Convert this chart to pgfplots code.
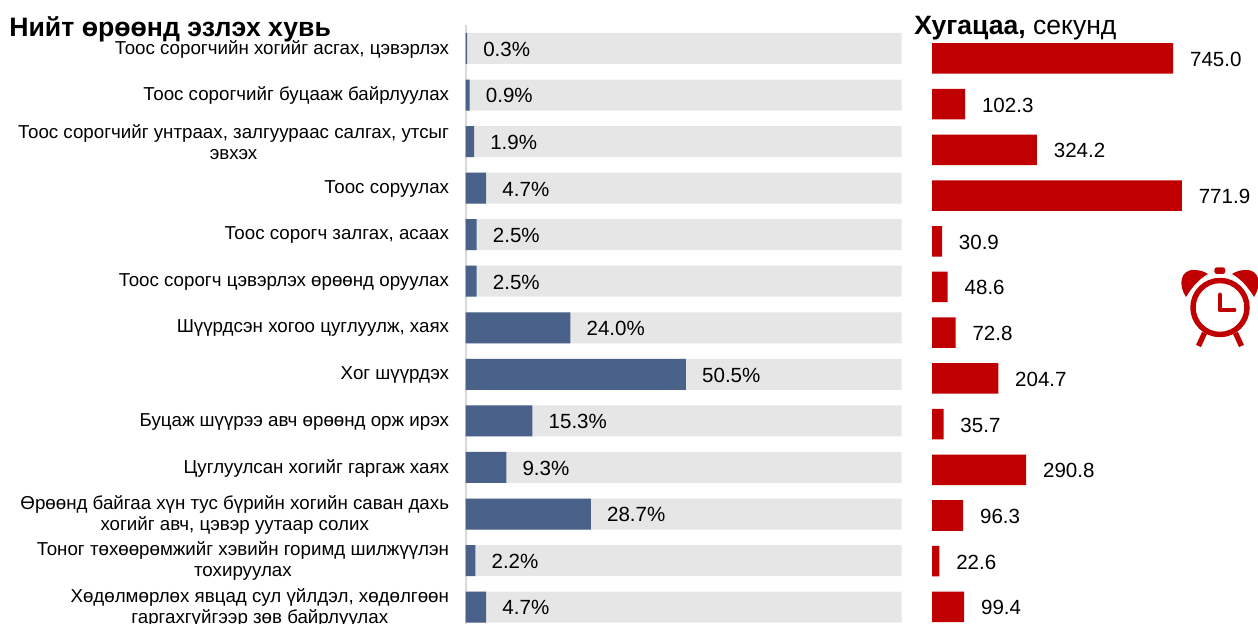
\documentclass[border=0pt]{standalone}
\usepackage{fontspec}
\setmainfont{Liberation Sans}
\usepackage{pgfplots}
\pgfplotsset{compat=1.18}
\definecolor{barblue}{HTML}{4A628A}
\definecolor{barback}{HTML}{E6E6E6}
\definecolor{barred}{HTML}{C00000}
\definecolor{axisgray}{HTML}{D9D9D9}
\pgfplotstableread{
row share
0 0.3
1 0.9
2 1.9
3 4.7
4 2.5
5 2.5
6 24.0
7 50.5
8 15.3
9 9.3
10 28.7
11 2.2
12 4.7
}\sharetable
\pgfplotstableread{
row secs
0 745.0
1 102.3
2 324.2
3 771.9
4 30.9
5 48.6
6 72.8
7 204.7
8 35.7
9 290.8
10 96.3
11 22.6
12 99.4
}\timetable
\begin{document}
\begin{tikzpicture}[x=0.75pt,y=-0.75pt]
\path[use as bounding box] (0,0) rectangle (1258,624);
% left panel: share of room time
\begin{axis}[
  at={(349.3pt,-18.9pt)},anchor=north west,
  scale only axis,width=327pt,height=450.4pt,
  xmin=0,xmax=100,ymin=-0.5,ymax=12.4,y dir=reverse,
  axis x line=none,axis y line=left,
  axis line style={draw=axisgray,line width=1.4pt,-},
  clip=false,xbar,bar shift=0pt,bar width=23.25pt,
  ytick={0,...,12},major tick length=0pt,
  yticklabel style={inner sep=0pt,xshift=-12.3pt,yshift=-0.5pt,align=center,
    font=\fontsize{14.05}{16}\selectfont},
  yticklabels={
    {Тоос сорогчийн хогийг асгах, цэвэрлэх},
    {Тоос сорогчийг буцааж байрлуулах},
    {Тоос сорогчийг унтраах, залгуураас салгах, утсыг\\эвхэх},
    {Тоос соруулах},
    {Тоос сорогч залгах, асаах},
    {Тоос сорогч цэвэрлэх өрөөнд оруулах},
    {Шүүрдсэн хогоо цуглуулж, хаях},
    {Хог шүүрдэх},
    {Буцаж шүүрээ авч өрөөнд орж ирэх},
    {Цуглуулсан хогийг гаргаж хаях},
    {Өрөөнд байгаа хүн тус бүрийн хогийн саван дахь\\хогийг авч, цэвэр уутаар солих},
    {Тоног төхөөрөмжийг хэвийн горимд шилжүүлэн\\тохируулах},
    {Хөдөлмөрлөх явцад сул үйлдэл, хөдөлгөөн\\гаргахгүйгээр зөв байрлуулах}},
]
\addplot[fill=barback,draw=none] coordinates {(100,0)(100,1)(100,2)(100,3)(100,4)(100,5)(100,6)(100,7)(100,8)(100,9)(100,10)(100,11)(100,12)};
\addplot[fill=barblue,draw=none,
  nodes near coords={\pgfmathprintnumber[fixed,fixed zerofill,precision=1,assume math mode=true]{\pgfplotspointmeta}\%},
  nodes near coords align={anchor=west},
  every node near coord/.append style={text=black,inner sep=0pt,xshift=12pt,yshift=-0.6pt,font=\fontsize{15.4}{18}\selectfont},
  point meta=x] table[x=share,y=row] {\sharetable};
\end{axis}
% right panel: duration in seconds
\begin{axis}[
  at={(699pt,-26.7pt)},anchor=north west,
  scale only axis,width=244.5pt,height=445.6pt,
  xmin=0,xmax=1007,ymin=-0.5,ymax=12.5,y dir=reverse,
  hide axis,clip=false,xbar,bar shift=0pt,bar width=22.9pt,
]
\addplot[fill=barred,draw=none,
  nodes near coords={\pgfmathprintnumber[fixed,fixed zerofill,precision=1,assume math mode=true]{\pgfplotspointmeta}},
  nodes near coords align={anchor=west},
  every node near coord/.append style={text=black,inner sep=0pt,xshift=12.5pt,yshift=-0.7pt,font=\fontsize{15.4}{18}\selectfont},
  point meta=x] table[x=secs,y=row] {\timetable};
\end{axis}
% panel titles
\node[anchor=base west,inner sep=0pt,font=\bfseries\fontsize{20}{22}\selectfont] at (9,37) {Нийт өрөөнд эзлэх хувь};
\node[anchor=base west,inner sep=0pt,font=\fontsize{19.9}{22}\selectfont] at (914,35) {\textbf{Хугацаа,} секунд};
% alarm clock icon
\begin{scope}[barred]
  \draw[line width=4.1pt] (1220,307.5) circle (27);
  \fill (1186,297) .. controls (1178,285) and (1180,269) .. (1195,270) .. controls (1200,270) and (1205,272) .. (1208,274) .. controls (1199,279) and (1192,287) .. (1186,297) -- cycle;
  \fill (1254,297) .. controls (1262,285) and (1260,269) .. (1245,270) .. controls (1240,270) and (1235,272) .. (1232,274) .. controls (1241,279) and (1248,287) .. (1254,297) -- cycle;
  \fill[rounded corners=2pt] (1214.3,274) rectangle (1225.3,267.3);
  \draw[line width=3.7pt,line cap=round,line join=round] (1220,295) -- (1220,310) -- (1234,310);
  \draw[line width=4pt] (1204.5,333) -- (1198.5,346);
  \draw[line width=4pt] (1235.5,333) -- (1241.5,346);
\end{scope}
\end{tikzpicture}
\end{document}
